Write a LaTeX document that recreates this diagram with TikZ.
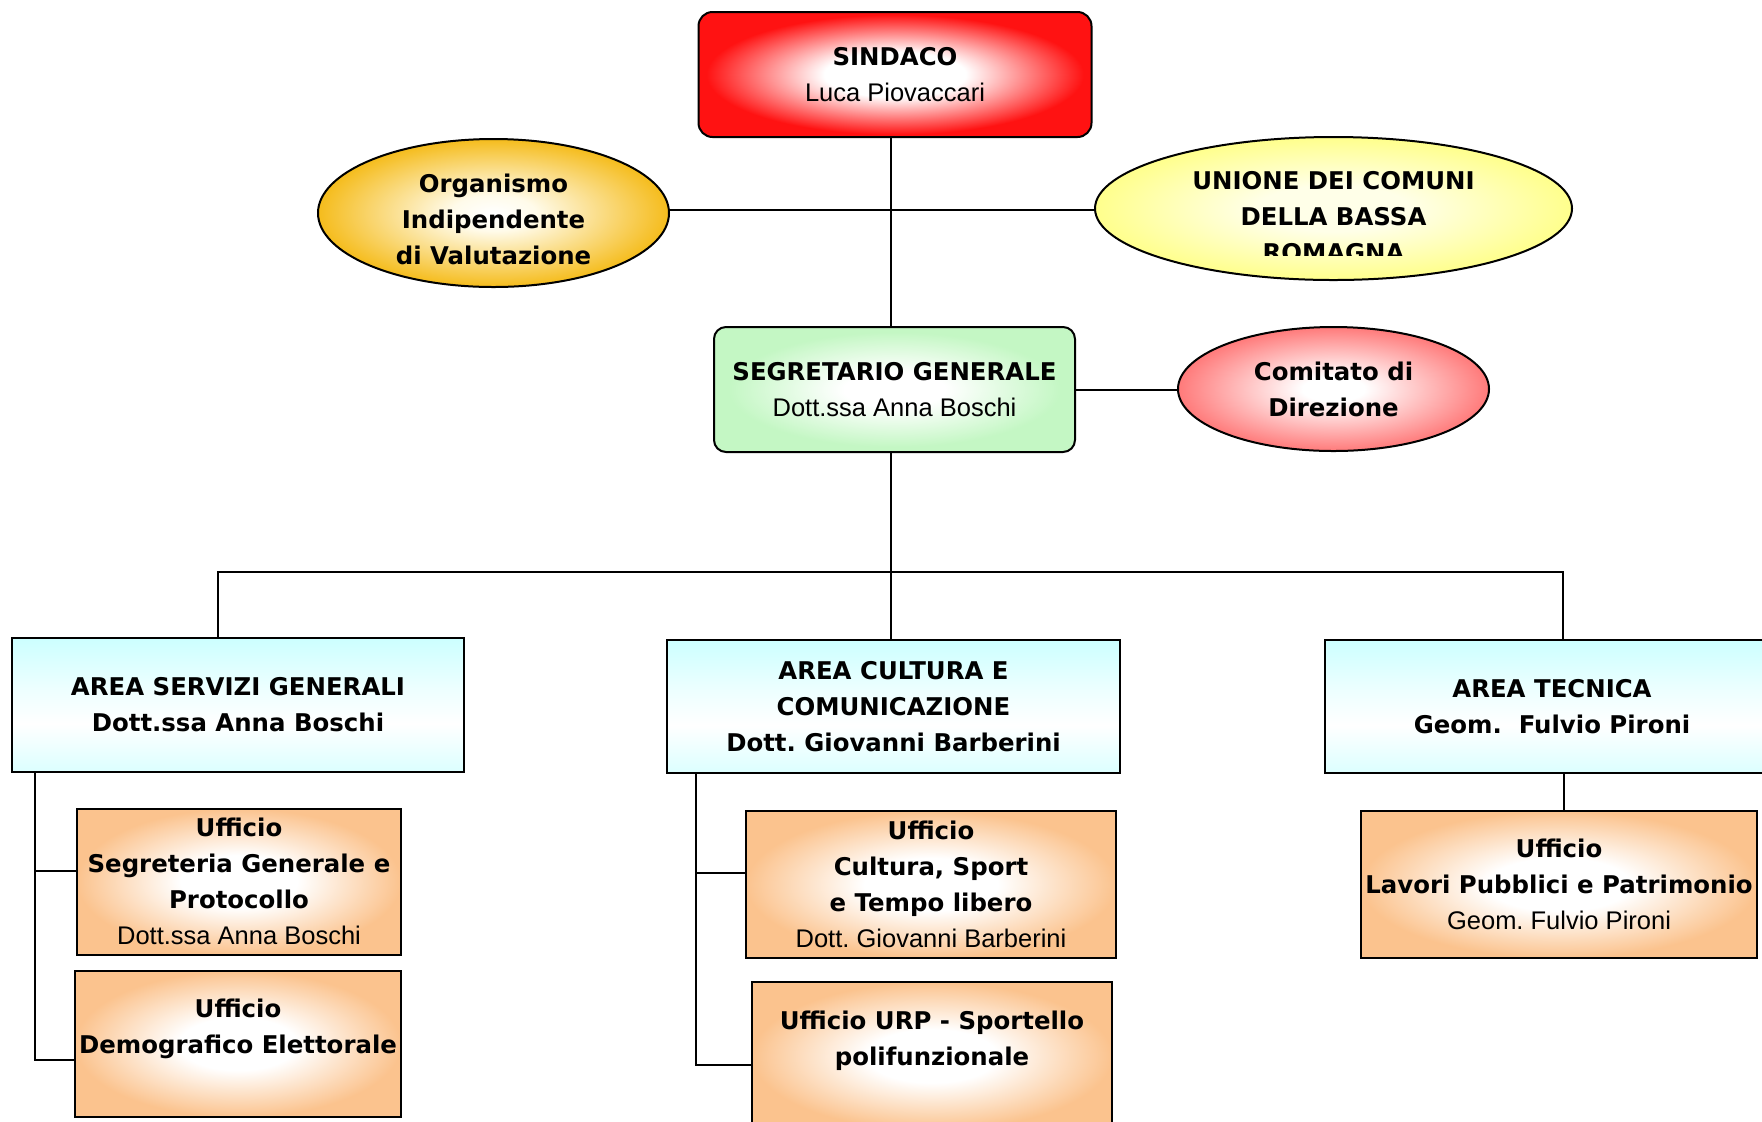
\documentclass[tikz,border=0pt]{standalone}
\usepackage{fontspec}
\setmainfont{Liberation Sans}
\newfontfamily\hdfamily{DejaVu Sans}
\usetikzlibrary{shapes.geometric}
\frenchspacing

% heading lines (bold) and name lines (regular)
\newcommand\hdB{\hdfamily\bfseries\fontsize{12.2}{18}\selectfont}
\newcommand\txR{\normalfont\fontsize{12.75}{18}\selectfont}

\definecolor{sindred}{HTML}{FF1212}
\definecolor{oivgold}{HTML}{F5BC1C}
\definecolor{oivcore}{HTML}{FFFBEA}
\definecolor{unyellow}{HTML}{FFFF8C}
\definecolor{uncore}{HTML}{FFFFE8}
\definecolor{segrgreen}{HTML}{C4F7C4}
\definecolor{compink}{HTML}{FF7A7A}
\definecolor{uffor}{HTML}{FBC38E}
\definecolor{areacyan}{HTML}{CCFFFF}

% soft glows: light centre, coloured rim
\pgfdeclareradialshading{sindglow}{\pgfpoint{0bp}{0bp}}{color(0bp)=(white); color(9bp)=(white); color(24bp)=(sindred); color(50bp)=(sindred)}
\pgfdeclareradialshading{oivglow}{\pgfpoint{0bp}{0bp}}{color(0bp)=(white); color(6bp)=(oivcore); color(25bp)=(oivgold); color(50bp)=(oivgold)}
\pgfdeclareradialshading{unglow}{\pgfpoint{0bp}{0bp}}{color(0bp)=(uncore); color(8bp)=(uncore); color(25bp)=(unyellow); color(50bp)=(unyellow)}
\pgfdeclareradialshading{segrglow}{\pgfpoint{0bp}{0bp}}{color(0bp)=(white); color(7bp)=(white); color(23bp)=(segrgreen); color(50bp)=(segrgreen)}
\pgfdeclareradialshading{comglow}{\pgfpoint{0bp}{0bp}}{color(0bp)=(white); color(5bp)=(white); color(25bp)=(compink); color(50bp)=(compink)}
\pgfdeclareradialshading{uffglow}{\pgfpoint{0bp}{0bp}}{color(0bp)=(white); color(9bp)=(white); color(25bp)=(uffor); color(50bp)=(uffor)}
\pgfdeclareverticalshading{areaband}{100bp}{color(0bp)=(areacyan!70!white); color(25bp)=(areacyan!70!white); color(43bp)=(white); color(56bp)=(areacyan!35!white); color(75bp)=(areacyan); color(100bp)=(areacyan)}

\tikzset{
  conn/.style={draw=black, line width=1pt},
  unit/.style={draw=black, line width=1pt, inner sep=0pt, align=center, font=\hdB},
  sindbox/.style={unit, rounded corners=7pt, shade, shading=sindglow},
  segrbox/.style={unit, rounded corners=6pt, shade, shading=segrglow},
  oval/.style={unit, ellipse},
  areabox/.style={unit, shade, shading=areaband},
  uffbox/.style={unit, shade, shading=uffglow},
  caption/.style={font=\hdB, align=center, inner sep=0pt},
}

\begin{document}
\begin{tikzpicture}[x=0.5pt, y=-0.5pt]
\useasboundingbox (0,0) rectangle (1762,1121);

% top level
\node[sindbox, minimum width=196.5pt, minimum height=62.5pt] (sindaco) at (895,74.5)
  {SINDACO\\\txR Luca Piovaccari};
\node[oval, shade, shading=oivglow, minimum width=175.5pt, minimum height=74pt] (oiv) at (493.5,213) {};
\node[caption] (oivtext) at (493.5,219.5) {Organismo\\Indipendente\\di Valutazione};
\node[oval, shade, shading=unglow, minimum width=238.5pt, minimum height=71.5pt] (unione) at (1333.5,208.5) {};
\begin{scope}
  \clip (1100,120) rectangle (1570,255);
  \node[caption] (uniontext) at (1333.5,216.5)
    {UNIONE DEI COMUNI\\DELLA BASSA\\ROMAGNA};
\end{scope}

\node[segrbox, minimum width=180.5pt, minimum height=62.5pt] (segr) at (894.5,389.5)
  {SEGRETARIO GENERALE\\\txR Dott.ssa Anna Boschi};
\node[oval, shade, shading=comglow, minimum width=155.5pt, minimum height=62pt] (comitato) at (1333.5,389)
  {Comitato di\\Direzione};

% areas
\node[areabox, minimum width=226pt, minimum height=67pt] (area1) at (238,705)
  {AREA SERVIZI GENERALI\\Dott.ssa Anna Boschi};
\node[areabox, minimum width=226.5pt, minimum height=66.5pt] (area2) at (893.5,706.5)
  {AREA CULTURA E\\COMUNICAZIONE\\Dott. Giovanni Barberini};
\node[areabox, minimum width=227pt, minimum height=66.5pt] (area3) at (1552,706.5)
  {AREA TECNICA\\Geom.~~Fulvio Pironi};

% offices
\node[uffbox, minimum width=162pt, minimum height=73pt] (usegr) at (239,881.5)
  {Ufficio\\Segreteria Generale e\\Protocollo\\\txR Dott.ssa Anna Boschi};
\node[uffbox, minimum width=163pt, minimum height=73pt] (udemo) at (238,1044)
  {Ufficio\\Demografico Elettorale\\\mbox{}};
\node[uffbox, minimum width=185pt, minimum height=73.5pt] (ucult) at (931,884.5)
  {Ufficio\\Cultura, Sport\\e Tempo libero\\\txR Dott. Giovanni Barberini};
\node[uffbox, minimum width=180pt, minimum height=74pt] (uurp) at (932,1056)
  {Ufficio URP - Sportello\\polifunzionale\\\mbox{}};
\node[uffbox, minimum width=198pt, minimum height=73.5pt] (ulav) at (1559,884.5)
  {Ufficio\\Lavori Pubblici e Patrimonio\\\txR Geom. Fulvio Pironi};

% guide coordinates for the connector lines
\coordinate (spine) at (891,0);
\coordinate (sideline) at (0,210);
\coordinate (busL) at (218,572);
\coordinate (busR) at (1563,572);
\coordinate (t1) at (35,0);
\coordinate (t2) at (696,0);
\coordinate (b1a) at (0,871);
\coordinate (b1b) at (0,1060);
\coordinate (b2a) at (0,873);
\coordinate (b2b) at (0,1065);
\coordinate (t3) at (1564,0);

% connectors
\draw[conn] (sindaco.south -| spine) -- (segr.north -| spine);
\draw[conn] (oiv.east |- sideline) -- (unione.west |- sideline);
\draw[conn] (segr.east) -- (segr.east -| comitato.west);
\draw[conn] (segr.south -| spine) -- (area2.north -| spine);
\draw[conn] (area1.north -| busL) -- (busL) -- (busR) -- (area3.north -| busR);

\draw[conn] (area1.south -| t1) -- (t1 |- b1b) -- (udemo.west |- b1b);
\draw[conn] (t1 |- b1a) -- (usegr.west |- b1a);

\draw[conn] (area2.south -| t2) -- (t2 |- b2b) -- (uurp.west |- b2b);
\draw[conn] (t2 |- b2a) -- (ucult.west |- b2a);

\draw[conn] (area3.south -| t3) -- (ulav.north -| t3);
\end{tikzpicture}
\end{document}
